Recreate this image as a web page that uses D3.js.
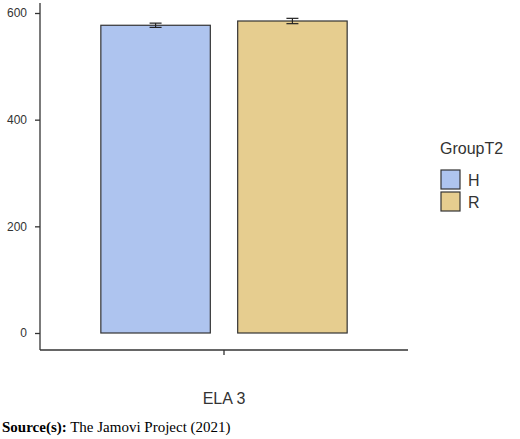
<!DOCTYPE html>
<html><head><meta charset="utf-8">
<script src="https://cdn.jsdelivr.net/npm/d3@7"></script>
<style>body{margin:0;background:#fff}</style>
</head><body>
<svg id="chart" width="520" height="439"></svg>
<script>
const groups = ["H", "R"];
const means = [577, 585];
const errors = [4, 5];
const yTicks = [0, 200, 400, 600];
const colors = ["#aec4ef", "#e6cd8f"];

const svg = d3.select("#chart");
const font = "Arial, 'Liberation Sans', sans-serif";
const axisColor = "#333";

const y = d3.scaleLinear().domain([0, 600]).range([333, 13]);
const x = d3.scaleBand().domain(groups).range([94, 354]).paddingInner(0.2).paddingOuter(0.05);

// bars
svg.selectAll(".bar").data(groups).enter().append("rect")
  .attr("x", d => x(d))
  .attr("y", (d, i) => y(means[i]))
  .attr("width", x.bandwidth())
  .attr("height", (d, i) => y(0) - y(means[i]))
  .attr("fill", (d, i) => colors[i])
  .attr("stroke", "#333").attr("stroke-width", 1.2);

// error bars
groups.forEach((d, i) => {
  const cx = x(d) + x.bandwidth() / 2;
  const g = svg.append("g").attr("stroke", "#222").attr("stroke-width", 1.2);
  g.append("line").attr("x1", cx).attr("x2", cx).attr("y1", y(means[i] + errors[i])).attr("y2", y(means[i] - errors[i]));
  g.append("line").attr("x1", cx - 6).attr("x2", cx + 6).attr("y1", y(means[i] + errors[i])).attr("y2", y(means[i] + errors[i]));
  g.append("line").attr("x1", cx - 6).attr("x2", cx + 6).attr("y1", y(means[i] - errors[i])).attr("y2", y(means[i] - errors[i]));
});

// y axis
const yAxis = svg.append("g").attr("transform", "translate(40,0)")
  .call(d3.axisLeft(y).tickValues(yTicks).tickSize(5).tickPadding(8));
yAxis.select(".domain").attr("d", "M0,3V350").attr("stroke", axisColor).attr("stroke-width", 1.3);
yAxis.selectAll("line").attr("stroke", axisColor).attr("stroke-width", 1.3);
yAxis.selectAll("text").attr("font-family", font).attr("font-size", 12).attr("fill", "#333");

// x axis
svg.append("line").attr("x1", 40).attr("x2", 408).attr("y1", 350).attr("y2", 350)
  .attr("stroke", axisColor).attr("stroke-width", 1.3);
svg.append("line").attr("x1", 224).attr("x2", 224).attr("y1", 350).attr("y2", 355)
  .attr("stroke", axisColor).attr("stroke-width", 1.3);
svg.append("text").attr("x", 224).attr("y", 404).attr("text-anchor", "middle")
  .attr("font-family", font).attr("font-size", 16).attr("fill", "#333").text("ELA 3");

// legend
svg.append("text").attr("x", 440).attr("y", 154).attr("font-family", font).attr("font-size", 16)
  .attr("fill", "#333").text("GroupT2");
groups.forEach((d, i) => {
  const ly = 170 + i * 22;
  svg.append("rect").attr("x", 441).attr("y", ly).attr("width", 19).attr("height", 19)
    .attr("fill", colors[i]).attr("stroke", "#333").attr("stroke-width", 1.2);
  svg.append("text").attr("x", 468).attr("y", ly + 16).attr("font-family", font).attr("font-size", 16)
    .attr("fill", "#333").text(d);
});

// source
const src = svg.append("text").attr("x", 2).attr("y", 432)
  .attr("font-family", "'Liberation Serif', 'Times New Roman', serif").attr("font-size", 15).attr("fill", "#000");
src.append("tspan").attr("font-weight", "bold").text("Source(s):");
src.append("tspan").text(" The Jamovi Project (2021)");
</script>
</body></html>
